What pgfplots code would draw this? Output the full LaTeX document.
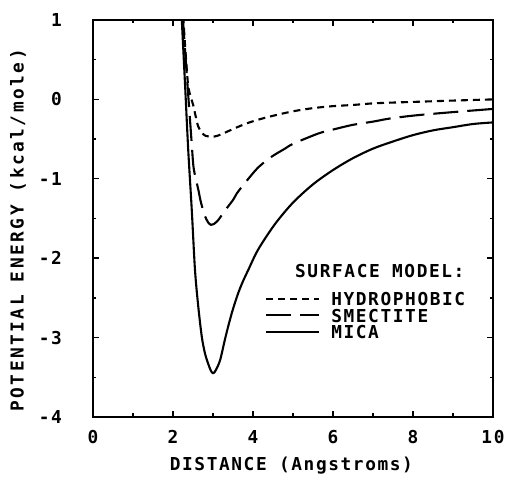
\documentclass[border=0pt]{standalone}
\usepackage{pgfplots}
\pgfplotsset{compat=1.18}
\usepackage{fontspec}
\newfontfamily\plotfont{DejaVu Sans Mono}[LetterSpace=9]
\newcommand\pf{\plotfont\bfseries\fontsize{17.8pt}{18pt}\selectfont}

\begin{document}
\begin{tikzpicture}[x=1pt,y=1pt]
\path[use as bounding box] (-93,-64) rectangle (414,417);
\begin{axis}[
  at={(0,0)}, anchor=south west,
  scale only axis, width=400pt, height=397pt,
  xmin=0, xmax=10, ymin=-4, ymax=1,
  xtick={0,2,...,10}, ytick={-4,-3,...,1},
  minor x tick num=1, minor y tick num=1,
  tick pos=both, tick align=inside,
  major tick length=6pt, minor tick length=3.5pt,
  every tick/.style={line width=1.4pt, black},
  axis line style={line width=2.2pt},
  /pgf/number format/assume math mode=true,
  ticklabel style={font=\pf, inner sep=0pt},
  xticklabel style={anchor=north, yshift=-13pt},
  yticklabel style={anchor=east, xshift=-31pt},
  xlabel={DISTANCE (Angstroms)},
  ylabel={POTENTIAL ENERGY (kcal/mole)},
  label style={font=\pf, inner sep=0pt},
  xlabel style={at={(axis description cs:0.496,0)}, anchor=north, yshift=-40pt},
  ylabel style={at={(axis description cs:0,0.47)}, anchor=center, yshift=75pt,
                font=\pf\addfontfeature{LetterSpace=14}},
  legend style={draw=none, fill=none, at={(axis cs:4.3,-2.43)}, anchor=north west,
                inner sep=0pt, row sep=0pt, column sep=11pt,
                nodes={inner sep=0pt, text height=13pt, text depth=3.5pt, font=\pf}},
  legend cell align=left,
  legend image code/.code={\draw[#1] (0pt,2pt) -- (53pt,2pt);},
  every axis plot/.append style={line width=2.1pt, line join=round, smooth, tension=0.5},
]
% Hydrophobic surface
\addplot[black, dash pattern=on 7pt off 5pt] coordinates {
 (2.20,1.5) (2.26,1.0) (2.32,0.55) (2.38,0.17) (2.45,0.02) (2.51,-0.08)
 (2.57,-0.22) (2.63,-0.34) (2.72,-0.42) (2.82,-0.46) (2.97,-0.47) (3.10,-0.46)
 (3.25,-0.43) (3.47,-0.38) (3.80,-0.31) (4.10,-0.26) (4.47,-0.21) (5.00,-0.15)
 (5.50,-0.11) (6.00,-0.085) (6.50,-0.07) (7.00,-0.05) (7.50,-0.04) (8.10,-0.03)
 (9.00,-0.015) (10.00,0.0)
};
\addlegendentry{HYDROPHOBIC}
% Smectite surface
\addplot[black, dash pattern=on 25pt off 9pt] coordinates {
 (2.19,1.5) (2.25,1.0) (2.36,0.2) (2.46,-0.5) (2.51,-0.84) (2.57,-1.0)
 (2.63,-1.13) (2.70,-1.30) (2.80,-1.47) (2.88,-1.55) (2.95,-1.58) (3.02,-1.57)
 (3.13,-1.52) (3.30,-1.40) (3.51,-1.26) (3.63,-1.16) (4.05,-0.90) (4.26,-0.80)
 (4.50,-0.71) (4.80,-0.62) (5.00,-0.56) (5.63,-0.43) (6.00,-0.38) (6.50,-0.32)
 (7.00,-0.28) (7.43,-0.24) (8.09,-0.20) (9.00,-0.16) (10.00,-0.12)
};
\addlegendentry{SMECTITE}
% Mica surface
\addplot[black] coordinates {
 (2.17,1.5) (2.22,1.0) (2.30,0.2) (2.38,-0.63) (2.47,-1.4) (2.55,-2.15)
 (2.63,-2.6) (2.72,-2.99) (2.80,-3.2) (2.88,-3.33) (2.95,-3.42) (3.01,-3.45)
 (3.08,-3.40) (3.18,-3.28) (3.30,-3.02) (3.40,-2.82) (3.50,-2.64) (3.63,-2.44)
 (3.75,-2.29) (3.88,-2.15) (4.13,-1.89) (4.55,-1.57) (5.00,-1.30) (5.50,-1.07)
 (6.00,-0.89) (6.50,-0.74) (7.00,-0.62) (7.50,-0.53) (8.00,-0.45) (8.50,-0.39)
 (9.00,-0.35) (9.50,-0.31) (10.00,-0.29)
};
\addlegendentry{MICA}
\node[font=\pf, anchor=base west, inner sep=0pt] at (axis cs:5.05,-2.245) {SURFACE MODEL:};
\end{axis}
\end{tikzpicture}
\end{document}
